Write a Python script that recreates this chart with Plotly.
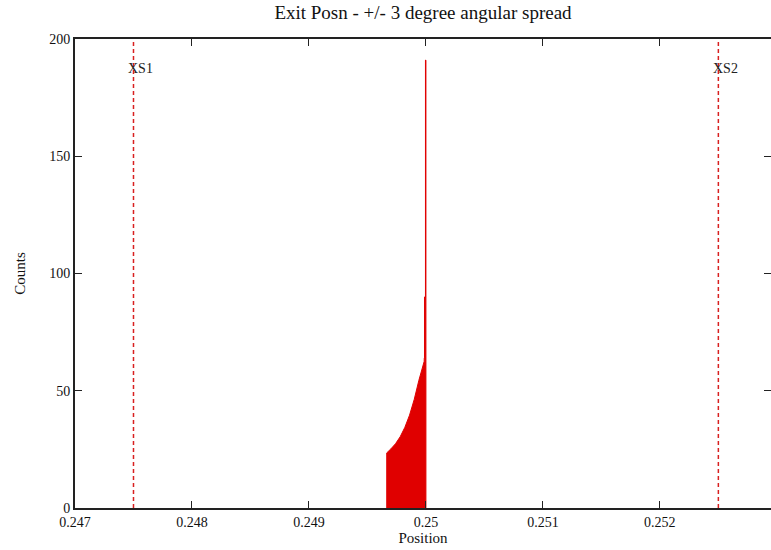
import plotly.graph_objects as go

# Outline of the histogram (positions and counts)
hist_x = [0.249665, 0.249665, 0.24970, 0.24974, 0.24978, 0.24982, 0.24986, 0.24990,
          0.24994, 0.24997, 0.249985, 0.249986, 0.249988, 0.249988, 0.249996, 0.249996,
          0.25, 0.25]
hist_counts = [0, 23.5, 25.2, 27.4, 30.4, 34.4, 39.6, 46.3,
               54.5, 59.5, 62.5, 64, 64, 90, 90, 191,
               191, 0]

marker_x = [0.2475, 0.2525]
marker_labels = ["XS1", "XS2"]

x_ticks = [0.247, 0.248, 0.249, 0.25, 0.251, 0.252]
x_ticktext = ["0.247", "0.248", "0.249", "0.25", "0.251", "0.252"]
y_ticks = [0, 50, 100, 150, 200]

fig = go.Figure()
fig.add_trace(go.Scatter(x=hist_x, y=hist_counts, mode="lines", fill="toself",
                         fillcolor="#e00000", line=dict(color="#e00000", width=1),
                         hoverinfo="skip", showlegend=False))

for xv in marker_x:
    fig.add_trace(go.Scatter(x=[xv, xv], y=[0, 200], mode="lines",
                             line=dict(color="#d82020", width=1.5, dash="4px,3px"),
                             showlegend=False, hoverinfo="skip"))

serif = "Liberation Serif"
for xv, lab in zip(marker_x, marker_labels):
    fig.add_annotation(x=xv, y=187.5, text=lab, showarrow=False, xanchor="left",
                       xshift=-7, font=dict(family=serif, size=14, color="#222"))

fig.update_layout(
    width=771, height=550,
    margin=dict(l=75, r=0, t=39, b=42),
    plot_bgcolor="white", paper_bgcolor="white",
    title=dict(text="Exit Posn - +/- 3 degree angular spread", x=0.5, xref="paper",
               y=1 - 12 / 550, yref="container", yanchor="middle",
               font=dict(family=serif, size=19, color="#111")),
    font=dict(family=serif, size=14, color="#111"),
    xaxis=dict(range=[0.247, 0.25295], tickvals=x_ticks, ticktext=x_ticktext,
               ticks="inside", ticklen=7, tickcolor="#222", showline=True,
               linecolor="#222", linewidth=2, mirror="ticks", showgrid=False,
               zeroline=False, automargin=False,
               tickfont=dict(family=serif, size=14),
               title=dict(text="Position", standoff=1,
                          font=dict(family=serif, size=15))),
    yaxis=dict(range=[0, 200], tickvals=y_ticks, ticks="inside", ticklen=7,
               tickcolor="#222", showline=True, linecolor="#222", linewidth=2,
               mirror="ticks", showgrid=False, zeroline=False, automargin=False,
               tickfont=dict(family=serif, size=14),
               title=dict(text="Counts", standoff=20, font=dict(family=serif, size=15))),
)

fig.write_html("out.html", config={"displayModeBar": False},
               post_script="document.body.style.margin='0';document.body.style.overflow='hidden';")
